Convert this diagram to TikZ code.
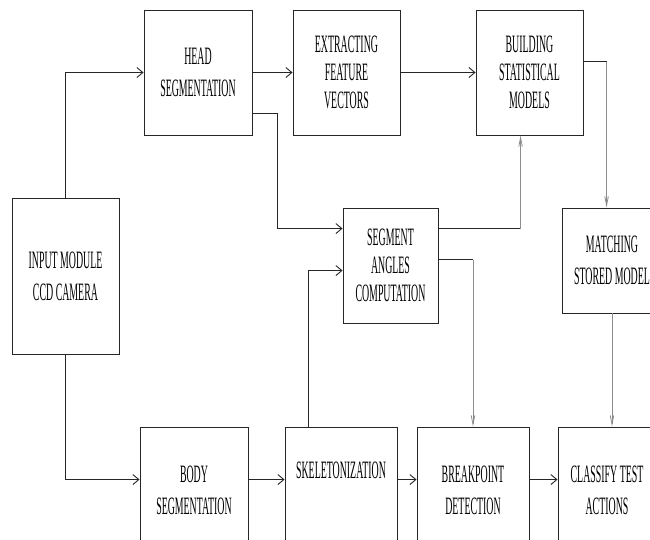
\documentclass[tikz,border=0pt]{standalone}
\usepackage{fontspec}
\newfontfamily\boxfont{Liberation Serif}[FakeStretch=0.395]
\usetikzlibrary{arrows.meta,calc}
\begin{document}
\begin{tikzpicture}[x=1pt,y=-1pt,
  blk/.style={draw=black!85,line width=0.9pt,rectangle,align=center,inner sep=0pt,
    font=\boxfont\fontsize{25}{32}\selectfont},
  darrow/.style={draw=black!85,line width=0.9pt,-{Straight Barb[length=6pt,width=10pt,line width=0.9pt]}},
  garrow/.style={draw=black!45,line width=0.9pt,-{Straight Barb[length=9pt,width=3.5pt,line width=0.8pt]}},
  gline/.style={draw=black!45,line width=0.9pt},
  dline/.style={draw=black!85,line width=0.9pt}]
\useasboundingbox (0,0) rectangle (650,539);
\fill[white] (0,0) rectangle (650,539);
\clip (0,0) rectangle (650,539);

\node[blk,minimum width=108pt,minimum height=125pt] (head) at (198,72.5) {HEAD\\SEGMENTATION};
\node[blk,minimum width=107pt,minimum height=125pt] (extract) at (346.5,72.5) {EXTRACTING\\[-4pt]FEATURE\\[-4pt]VECTORS};
\node[blk,minimum width=107pt,minimum height=125pt] (build) at (529.5,72.5) {BUILDING\\[-4pt]STATISTICAL\\[-4pt]MODELS};
\node[blk,minimum width=107pt,minimum height=156pt] (input) at (65.5,276) {INPUT MODULE\\CCD CAMERA};
\node[blk,minimum width=95pt,minimum height=115pt] (segang) at (390.5,265.5) {SEGMENT\\[-4pt]ANGLES\\[-4pt]COMPUTATION};
\node[blk,minimum width=100pt,minimum height=105pt] (match) at (612,260.5) {MATCHING\\STORED MODEL};
\node[blk,minimum width=108pt,minimum height=126pt] (body) at (194,490) {BODY\\SEGMENTATION};
\node[blk,minimum width=112pt,minimum height=126pt] (skel) at (341,490) {\raisebox{11.5pt}[0pt][0pt]{SKELETONIZATION}};
\node[blk,minimum width=112pt,minimum height=126pt] (brk) at (473,490) {BREAKPOINT\\DETECTION};
\node[blk,minimum width=98pt,minimum height=126pt] (cls) at (607,490) {CLASSIFY TEST\\ACTIONS};

% input to head / body
\draw[darrow] (input.north) |- (head.west);
\coordinate (bodyin) at ($(body.north west)+(0,53)$);
\draw[darrow] (input.south) |- (bodyin);
% top row
\draw[darrow] (head.east) -- (extract.west);
\draw[darrow] (extract.east) -- (build.west);
% head to segment angles
\coordinate (headout) at ($(head.north east)+(0,104)$);
\coordinate (segin1) at ($(segang.north west)+(0,21)$);
\draw[darrow] (headout) -- ++(25,0) |- (segin1);
% skeleton to segment angles
\coordinate (skelout) at ($(skel.north west)+(24,0)$);
\coordinate (segin2) at ($(segang.north west)+(0,63)$);
\draw[darrow] (skelout) |- (segin2);
% segment angles to building
\coordinate (segout1) at ($(segang.north east)+(0,21)$);
\coordinate (buildin) at ($(build.south west)+(45,0)$);
\draw[dline] (segout1) -- (segout1 -| buildin);
\draw[garrow] (segout1 -| buildin) -- (buildin);
% segment angles to breakpoint
\coordinate (segout2) at ($(segang.north east)+(0,52)$);
\draw[dline] (segout2) -- (segout2 -| brk.north);
\draw[garrow] (segout2 -| brk.north) -- (brk.north);
% building to matching
\coordinate (buildout) at ($(build.north east)+(0,52)$);
\coordinate (matchin) at ($(match.north west)+(45,0)$);
\draw[dline] (buildout) -- (buildout -| matchin);
\draw[garrow] (buildout -| matchin) -- (matchin);
% matching to classify
\draw[garrow] (match.south) -- (match.south |- cls.north);
% bottom row
\coordinate (bodyout) at ($(body.north east)+(0,53)$);
\draw[darrow] (bodyout) -- (bodyout -| skel.west);
\draw[darrow] ($(skel.north east)+(0,53)$) -- ($(brk.north west)+(0,53)$);
\draw[darrow] ($(brk.north east)+(0,53)$) -- ($(cls.north west)+(0,53)$);
\end{tikzpicture}
\end{document}
